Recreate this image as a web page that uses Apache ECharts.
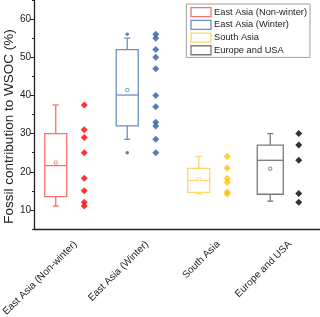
<!DOCTYPE html>
<html><head><meta charset="utf-8">
<script src="https://cdn.jsdelivr.net/npm/echarts@6/dist/echarts.min.js"></script>
<style>html,body{margin:0;padding:0;background:#fff}#c{width:320px;height:317px}</style>
</head><body><div id="c"></div>
<script>
// ---- data ----
const categories = ['East Asia (Non-winter)', 'East Asia (Winter)', 'South Asia', 'Europe and USA'];
const whiskerLow  = [11, 28.5, 14.2, 12.3];
const q1          = [13.5, 32, 14.6, 14.1];
const median      = [21.6, 40.1, 17.7, 23];
const q3          = [30, 52, 20.9, 27];
const whiskerHigh = [37.5, 55, 24, 30];
const mean        = [22.4, 41.4, 18.1, 20.8];
const outliersWinter = [56, 25];
const pointsNonWinter = [37.5, 31, 29, 25, 18.3, 15, 12, 11];
const pointsWinter = [56, 55, 52, 50, 47, 40, 37, 33, 32, 28.5, 25];
const pointsSouthAsia = [24, 21, 18.2, 17.2, 14.7, 14.2];
const pointsEuropeUSA = [30, 27, 23, 14.3, 12];
const yTickValues = [10, 20, 30, 40, 50, 60];

// ---- styles ----
const boxColors = ['#f87171', '#6d8fc2', '#ffd56e', '#7a7a7a'];
const pointColors = ['#ff0000', '#2f5f9f', '#ffc000', '#000000'];
const boxWidths = [22, 22, 22, 26];
const boxOffset = -14;
const pointOffset = 14.5;
const allPoints = [pointsNonWinter, pointsWinter, pointsSouthAsia, pointsEuropeUSA];

function renderBox(params, api) {
  const i = api.value(0);
  const w = boxWidths[i];
  const color = boxColors[i];
  const pLow = api.coord([i, api.value(1)]);
  const pQ1 = api.coord([i, api.value(2)]);
  const pMed = api.coord([i, api.value(3)]);
  const pQ3 = api.coord([i, api.value(4)]);
  const pHigh = api.coord([i, api.value(5)]);
  const pMean = api.coord([i, api.value(6)]);
  const x = pLow[0] + boxOffset;
  const ls = {stroke: color, lineWidth: 1.3, fill: 'none'};
  const cap = 3;
  return {
    type: 'group',
    children: [
      {type: 'rect', shape: {x: x - w / 2, y: pQ3[1], width: w, height: pQ1[1] - pQ3[1]}, style: {stroke: color, lineWidth: 1.3, fill: '#fff'}},
      {type: 'line', shape: {x1: x - w / 2, y1: pMed[1], x2: x + w / 2, y2: pMed[1]}, style: ls},
      {type: 'line', shape: {x1: x, y1: pQ3[1], x2: x, y2: pHigh[1]}, style: ls},
      {type: 'line', shape: {x1: x, y1: pQ1[1], x2: x, y2: pLow[1]}, style: ls},
      {type: 'line', shape: {x1: x - cap, y1: pHigh[1], x2: x + cap, y2: pHigh[1]}, style: ls},
      {type: 'line', shape: {x1: x - cap, y1: pLow[1], x2: x + cap, y2: pLow[1]}, style: ls},
      {type: 'rect', shape: {x: x - 1.5, y: pMean[1] - 1.5, width: 3, height: 3}, style: {stroke: color, lineWidth: 0.8, fill: '#fff'}}
    ]
  };
}

const series = [];
categories.forEach((name, i) => {
  series.push({
    name: name, type: 'custom', renderItem: renderBox,
    itemStyle: {color: boxColors[i]},
    encode: {x: 0, y: [1, 2, 3, 4, 5, 6]},
    data: [[i, whiskerLow[i], q1[i], median[i], q3[i], whiskerHigh[i], mean[i]]],
    z: 2
  });
});
allPoints.forEach((pts, i) => {
  series.push({
    name: 'pts' + i, type: 'scatter', symbol: 'diamond', symbolSize: 7,
    symbolOffset: [pointOffset, 0],
    itemStyle: {color: pointColors[i]},
    data: pts.map(v => [i, v]), z: 3
  });
});
series.push({
  name: 'outliers', type: 'scatter', symbol: 'circle', symbolSize: 3.5,
  symbolOffset: [boxOffset, 0], itemStyle: {color: pointColors[1]},
  data: outliersWinter.map(v => [1, v]), z: 3
});

const chart = echarts.init(document.getElementById('c'), null, {renderer: 'canvas'});
chart.setOption({
  animation: false,
  textStyle: {fontFamily: 'Liberation Sans, Arial, sans-serif'},
  grid: {left: 34, right: 0, top: 0, bottom: 88, containLabel: false, outerBoundsMode: 'none'},
  legend: {
    orient: 'vertical', right: 10, top: 4, selectedMode: false,
    itemWidth: 20, itemHeight: 9, itemGap: 2.4, padding: [3, 3, 2, 4],
    borderColor: '#a0a0a0', borderWidth: 1, backgroundColor: '#fff',
    textStyle: {fontSize: 9.3, color: '#222', fontFamily: 'Liberation Sans, Arial, sans-serif', padding: [0, 0, 0, -2]},
    data: categories.map((n, i) => ({name: n, icon: 'rect', itemStyle: {color: '#fff', borderColor: boxColors[i], borderWidth: 1.3}}))
  },
  xAxis: {
    type: 'category', data: categories,
    axisLine: {lineStyle: {color: '#222', width: 1.3}},
    axisTick: {alignWithLabel: true, length: 4, lineStyle: {color: '#222'}},
    axisLabel: {rotate: 45, interval: 0, fontSize: 10, color: '#222', margin: 8, verticalAlign: 'top', lineHeight: 16},
    splitLine: {show: false}
  },
  yAxis: [{
    type: 'value', min: 5, max: 65,
    name: 'Fossil contribution to WSOC (%)', nameLocation: 'middle', nameGap: 18, nameMoveOverlap: false,
    nameTextStyle: {fontSize: 13.5, color: '#222', padding: [0, 24, 0, 0]},
    axisLine: {show: true, lineStyle: {color: '#222', width: 1.3}},
    axisTick: {show: true, length: 4, customValues: yTickValues, lineStyle: {color: '#222'}},
    axisLabel: {fontSize: 10, color: '#222', margin: 3, customValues: yTickValues},
    splitLine: {show: false}
  }, {
    type: 'value', min: 5, max: 65, interval: 5, position: 'left',
    axisLine: {show: false}, axisLabel: {show: false},
    axisTick: {show: true, length: 2, lineStyle: {color: '#222'}},
    splitLine: {show: false}
  }],
  series: series
});
</script>
</body></html>
